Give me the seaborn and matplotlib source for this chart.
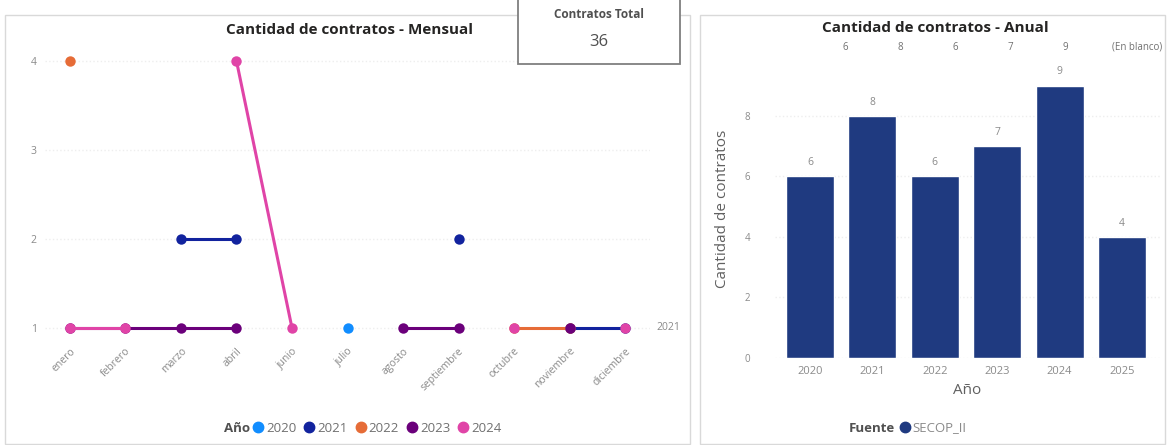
import numpy as np
import pandas as pd
import matplotlib.pyplot as plt
import seaborn as sns
from matplotlib.patches import Rectangle
from matplotlib.lines import Line2D

# Datos
meses = ["enero", "febrero", "marzo", "abril", "junio", "julio", "agosto",
         "septiembre", "octubre", "noviembre", "diciembre"]
anios_linea = ["2020", "2021", "2022", "2023", "2024"]
colores_anio = ["#118DFF", "#12239E", "#E66C37", "#6B007B", "#E044A7"]

# valores mensuales por año (None = sin dato, corta la línea)
v2020 = [None, None, None, None, None, 1, None, None, None, None, None]
v2021 = [None, None, 2, 2, None, None, None, 2, None, 1, 1]
v2022 = [4, None, None, None, None, None, None, None, 1, 1, None]
v2023 = [1, 1, 1, 1, None, None, 1, 1, None, 1, None]
v2024 = [1, 1, None, 4, 1, None, None, None, 1, None, 1]
series = [v2020, v2021, v2022, v2023, v2024]

anios_barra = ["2020", "2021", "2022", "2023", "2024", "2025"]
contratos_anio = [6, 8, 6, 7, 9, 4]
fila_superior = ["6", "8", "6", "7", "9", "(En blanco)"]
total_contratos = 36

# tabla larga, un segmento por tramo continuo
rows = []
for anio, vals in zip(anios_linea, series):
    seg = 0
    prev = None
    for i, v in enumerate(vals):
        if v is None:
            prev = None
            continue
        if prev is None:
            seg += 1
        rows.append({"pos": i, "valor": v, "anio": anio, "seg": f"{anio}-{seg}"})
        prev = v
df = pd.DataFrame(rows)

sns.set_style("white")
plt.rcParams["font.family"] = ["Open Sans", "DejaVu Sans"]

W, H = 1169, 445
fig = plt.figure(figsize=(W / 100, H / 100), dpi=100)
fig.patch.set_facecolor("white")

def fx(px):
    return px / W

def fy(py):
    return 1 - py / H

# marcos de los paneles
fig.add_artist(Rectangle((fx(5), fy(444)), fx(685), 429 / H, transform=fig.transFigure,
                         fill=False, edgecolor="#d9d9d9", lw=1))
fig.add_artist(Rectangle((fx(700), fy(444)), fx(465), 429 / H, transform=fig.transFigure,
                         fill=False, edgecolor="#d9d9d9", lw=1))

# ---- panel mensual ----
ax1 = fig.add_axes([fx(45), fy(340), fx(605), 290 / H])
pal = dict(zip(anios_linea, colores_anio))
sns.lineplot(data=df, x="pos", y="valor", hue="anio", units="seg", estimator=None,
             palette=pal, hue_order=anios_linea, marker="o", markersize=7.5,
             markeredgewidth=0, linewidth=2.2, legend=False, ax=ax1)
ax1.set_xlim(-0.45, len(meses) - 1 + 0.45)
ax1.set_ylim(0.865, 4.124)
ax1.set_xticks(range(len(meses)))
ax1.set_xticklabels(meses, rotation=45, ha="right", rotation_mode="anchor",
                    fontsize=7.5, color="#8a8a8a")
ax1.set_yticks([1, 2, 3, 4])
ax1.tick_params(axis="y", labelsize=7.5, labelcolor="#8a8a8a", length=0, pad=6)
ax1.tick_params(axis="x", length=0, pad=4)
ax1.grid(axis="y", color="#eeeeee", linestyle=":", linewidth=1)
ax1.set_xlabel("")
ax1.set_ylabel("")
for s in ax1.spines.values():
    s.set_visible(False)
ax1.text(1.01, 1, "2021", transform=ax1.get_yaxis_transform(), fontsize=7.5,
         color="#8a8a8a", va="center", ha="left")

fig.text(fx(350), fy(30), "Cantidad de contratos - Mensual", ha="center", va="center",
         fontsize=11, fontweight="bold", color="#252423")

# leyenda del panel mensual
fig.text(fx(250), fy(428), "Año", ha="right", va="center", fontsize=9.5,
         fontweight="bold", color="#505050")
handles = [Line2D([], [], marker="o", linestyle="", color=c, markersize=7.5) for c in colores_anio]
fig.legend(handles, anios_linea, ncol=5, loc="center left", bbox_to_anchor=(fx(250), fy(428)),
           frameon=False, handletextpad=0.0, columnspacing=0.4, fontsize=9.5,
           labelcolor="#707070", borderaxespad=0, borderpad=0, handlelength=1.2)

# tarjeta total
fig.add_artist(Rectangle((fx(518), fy(64)), fx(162), 66 / H, transform=fig.transFigure,
                         facecolor="white", edgecolor="#7f7f7f", lw=1.3, zorder=5))
fig.text(fx(599), fy(14), "Contratos Total", ha="center", va="center", fontsize=8.5,
         fontweight="bold", color="#505050", zorder=6)
fig.text(fx(599), fy(42), str(total_contratos), ha="center", va="center", fontsize=12,
         color="#505050", zorder=6)

# ---- panel anual ----
ax2 = fig.add_axes([fx(775), fy(358), fx(385), 298 / H])
sns.barplot(x=anios_barra, y=contratos_anio, color="#1f3a80", saturation=1,
            width=0.77, ax=ax2)
ax2.set_xlim(-0.56, len(anios_barra) - 1 + 0.61)
ax2.set_ylim(0, 9.85)
ax2.set_yticks([0, 2, 4, 6, 8])
ax2.tick_params(axis="y", labelsize=7, labelcolor="#8a8a8a", length=0, pad=18)
ax2.tick_params(axis="x", labelsize=8, labelcolor="#8a8a8a", length=0, pad=6)
ax2.grid(axis="y", color="#eeeeee", linestyle=":", linewidth=1)
ax2.set_axisbelow(True)
for s in ax2.spines.values():
    s.set_visible(False)
ax2.bar_label(ax2.containers[0], fontsize=7.5, color="#8a8a8a", padding=6)
ax2.set_xlabel("Año", fontsize=11, color="#606060", labelpad=4)
ax2.set_ylabel("Cantidad de contratos", fontsize=11, color="#606060", labelpad=10)

fig.text(fx(935), fy(28), "Cantidad de contratos - Anual", ha="center", va="center",
         fontsize=11, fontweight="bold", color="#252423")

xs = np.linspace(845, 1065, len(fila_superior) - 1)
for x, t in zip(xs, fila_superior[:-1]):
    fig.text(fx(x), fy(47), t, ha="center", va="center", fontsize=7, color="#707070")
fig.text(fx(1137), fy(47), fila_superior[-1], ha="center", va="center", fontsize=7,
         color="#707070")

fig.text(fx(895), fy(428), "Fuente", ha="right", va="center", fontsize=9.5,
         fontweight="bold", color="#505050")
fig.legend([Line2D([], [], marker="o", linestyle="", color="#1f3a80", markersize=7.5)],
           ["SECOP_II"], loc="center left", bbox_to_anchor=(fx(897), fy(428)),
           frameon=False, handletextpad=0.0, fontsize=9.5, labelcolor="#8a8a8a",
           borderaxespad=0, borderpad=0, handlelength=1.2)

fig.savefig("out.png", dpi=100, facecolor="white")
